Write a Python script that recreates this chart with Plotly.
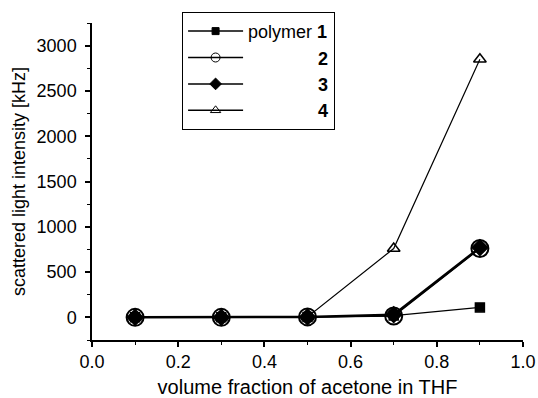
import plotly.graph_objects as go

x = [0.1, 0.3, 0.5, 0.7, 0.9]
polymer1 = [0, 0, 5, 20, 110]
polymer2 = [0, 0, 5, 15, 760]
polymer3 = [0, 0, 5, 30, 770]
polymer4 = [0, 0, 5, 760, 2850]

NB = "\u00a0"
names = ["polymer <b>1</b>",
         NB * 14 + "<b>2</b>",
         NB * 14 + "<b>3</b>",
         NB * 14 + "<b>4</b>"]

series = [polymer1, polymer2, polymer3, polymer4]
symbols = ["square", "circle-open", "diamond", "triangle-up-open"]
plot_sizes = [9, 17, 12, 11]
legend_sizes = [7, 9, 9, 9]
line_widths = [1.2, 1.5, 2.5, 1.2]

font = dict(family="Liberation Sans, Arial, sans-serif", color="black")

fig = go.Figure()
for i, ys in enumerate(series):
    fig.add_trace(go.Scatter(x=x, y=ys, name=names[i], mode="lines+markers", showlegend=False,
                             line=dict(color="black", width=line_widths[i]),
                             marker=dict(symbol=symbols[i], size=plot_sizes[i], color="black",
                                         line=dict(width=2 if i == 1 else 1.5, color="black"))))
for i in range(4):
    fig.add_trace(go.Scatter(x=[None], y=[None], name=names[i], mode="lines+markers", showlegend=True,
                             line=dict(color="black", width=1.5),
                             marker=dict(symbol=symbols[i], size=legend_sizes[i], color="black",
                                         line=dict(width=1, color="black"))))

fig.update_layout(
    width=538, height=398,
    margin=dict(l=92, r=15, t=23, b=58),
    paper_bgcolor="white", plot_bgcolor="white",
    font=dict(size=18, **font),
    showlegend=True,
    legend=dict(x=0.209, y=1.035, xanchor="left", yanchor="top",
                bordercolor="black", borderwidth=1, bgcolor="white",
                font=dict(size=18, **font), tracegroupgap=0, itemwidth=55),
    xaxis=dict(range=[0, 1], showgrid=False, zeroline=False, showline=True, automargin=False,
               linecolor="black", linewidth=1.5, ticks="outside", ticklen=5,
               tickwidth=1.5, tickcolor="black", dtick=0.2, tick0=0, tickformat=".1f",
               minor=dict(ticks="outside", ticklen=3, dtick=0.1, tickcolor="black", tickwidth=1),
               title=dict(text="volume fraction of acetone in THF", font=dict(size=20, **font), standoff=10),
               tickfont=dict(size=18, **font)),
    yaxis=dict(range=[-250, 3250], showgrid=False, zeroline=False, showline=True, automargin=False,
               linecolor="black", linewidth=1.5, ticks="outside", ticklen=5,
               tickwidth=1.5, tickcolor="black", dtick=500, tick0=0, ticklabelstandoff=5,
               minor=dict(ticks="outside", ticklen=3, dtick=250, tickcolor="black", tickwidth=1),
               title=dict(text="scattered light intensity [kHz]", font=dict(size=18, **font), standoff=6),
               tickfont=dict(size=18, **font)),
)

fig.write_html("out.html")
